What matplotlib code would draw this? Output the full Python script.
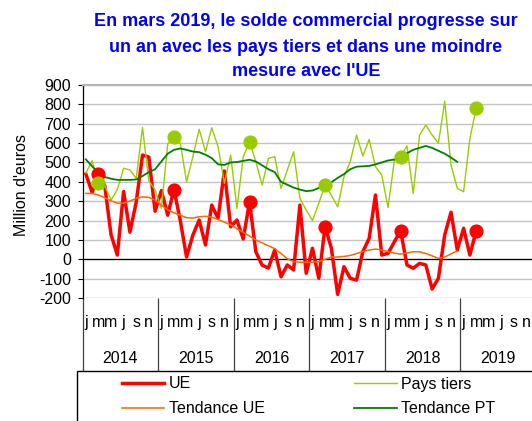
import matplotlib
matplotlib.use("Agg")
import matplotlib.pyplot as plt
import numpy as np
from matplotlib.patches import Rectangle

plt.rcParams['font.family'] = ['Liberation Sans', 'DejaVu Sans']
plt.rcParams['axes.unicode_minus'] = False

# ---- data (monthly, Jan 2014 .. Mar 2019) ----
years = ['2014', '2015', '2016', '2017', '2018', '2019']
month_letters = ['j', 'm', 'm', 'j', 's', 'n']

ue = [440, 345, 440, 380, 128, 22, 350, 140, 295, 538, 528, 248,
      355, 228, 360, 200, 12, 125, 203, 74, 280, 211, 456, 168,
      203, 105, 297, 39, -30, -45, 48, -90, -29, -55, 280, -72,
      57, -98, 169, 57, -181, -38, -98, -107, 40, 108, 332, 22,
      31, 90, 148, -29, -46, -21, -29, -153, -98, 126, 243, 48,
      160, 22, 148]

pays_tiers = [445, 509, 392, 380, 306, 360, 470, 461, 418, 680, 405, 358,
              263, 595, 630, 600, 400, 530, 671, 555, 679, 581, 392, 538,
              263, 530, 607, 504, 383, 521, 530, 366, 461, 555, 315, 254,
              200, 290, 383, 330, 271, 426, 504, 641, 533, 619, 478, 435,
              267, 510, 530, 585, 340, 641, 693, 642, 599, 816, 487, 366,
              349, 624, 779]

tendance_ue = [340, 340, 332, 318, 302, 290, 290, 300, 315, 322, 320, 305,
               280, 255, 240, 228, 215, 213, 220, 222, 218, 205, 192, 178,
               158, 140, 120, 100, 85, 70, 55, 30, 3, -12, -15, -15,
               -15, -12, 0, 12, 12, 15, 20, 30, 40, 48, 53, 48,
               40, 32, 27, 33, 39, 39, 30, 18, 5, 12, 28, 43]

tendance_pt = [516, 480, 445, 425, 416, 410, 410, 410, 412, 430, 450, 465,
               505, 545, 565, 572, 565, 556, 553, 540, 522, 490, 487, 500,
               502, 508, 514, 505, 485, 465, 450, 400, 385, 370, 360, 352,
               355, 368, 380, 398, 420, 440, 465, 478, 480, 482, 490, 500,
               510, 515, 530, 547, 565, 575, 585, 575, 560, 545, 525, 503]

march_idx = [2, 14, 26, 38, 50, 62]

W, H = 532, 421
fig = plt.figure(figsize=(W / 100, H / 100), dpi=100)

def fx(px):
    return px / W

def fy(py):
    return 1 - py / H

ax_left, ax_right, ax_top, ax_bottom = 82.7, 536.0, 84.9, 298.1
ax = fig.add_axes([fx(ax_left), fy(ax_bottom), (ax_right - ax_left) / W,
                   (ax_bottom - ax_top) / H])

x_ue = np.arange(len(ue))
x_pt = np.arange(len(pays_tiers))
x_tue = np.arange(len(tendance_ue))
x_tpt = np.arange(len(tendance_pt))

c_ue, c_pt, c_tue, c_tpt = '#ff0000', '#99cc00', '#ff6600', '#008000'

l_ue, = ax.plot(x_ue, ue, color=c_ue, lw=2.5, zorder=3)
l_pt, = ax.plot(x_pt, pays_tiers, color=c_pt, lw=1.0, zorder=3)
l_tue, = ax.plot(x_tue, tendance_ue, color=c_tue, lw=1.1, zorder=4)
l_tpt, = ax.plot(x_tpt, tendance_pt, color=c_tpt, lw=1.3, zorder=4)

ax.plot(march_idx, [ue[i] for i in march_idx], 'o', color=c_ue, ms=9.2,
        mec=c_ue, zorder=5)
ax.plot(march_idx, [pays_tiers[i] for i in march_idx], 'o', color=c_pt,
        ms=9.2, mec=c_pt, zorder=6)

ax.set_ylim(-200, 900)
ax.set_xlim(-0.5, 71.5)
ax.set_yticks(np.arange(-200, 901, 100))
ax.yaxis.grid(True, color='#c4c4c4', lw=1.0)
ax.set_axisbelow(True)
ax.axhline(0, color='black', lw=0.9, zorder=2)

ax.tick_params(axis='y', direction='out', length=3.5, width=0.8,
               labelsize=11.5, pad=5, colors='black')
for s in ['right', 'bottom']:
    ax.spines[s].set_visible(False)
ax.spines['left'].set_color('black')
ax.spines['left'].set_linewidth(0.9)
ax.spines['top'].set_color('#b4b4b4')
ax.spines['top'].set_linewidth(1.6)

# year boundaries as long ticks below the plot
bounds = [12 * k - 0.5 for k in range(len(years) + 1)]
ax.set_xticks(bounds)
ax.set_xticklabels([''] * len(bounds))
ax.tick_params(axis='x', direction='out', length=(371.3 - ax_bottom) * 0.72,
               width=0.9, colors='#404040')

ph = ax_bottom - ax_top
trans = ax.get_xaxis_transform()
for k, yr in enumerate(years):
    for j, m in enumerate(month_letters):
        ax.text(12 * k + 2 * j, (ax_bottom - 322.7) / ph, m, transform=trans,
                ha='center', va='center', fontsize=11.5, clip_on=False)
    ax.text(12 * k + 5.5, (ax_bottom - 358.4) / ph, yr, transform=trans,
            ha='center', va='center', fontsize=11.5, clip_on=False)

# title
title_lines = ["En mars 2019, le solde commercial progresse sur",
               "un an avec les pays tiers et dans une moindre",
               "mesure avec l'UE"]
for t, yy in zip(title_lines, [22.0, 47.5, 72.0]):
    fig.text(fx(306), fy(yy), t, ha='center', va='center', fontsize=13,
             fontweight='bold', color='#0000ff')

fig.text(fx(21.7), fy(185), "Million d'euros", rotation=90, ha='center',
         va='center', fontsize=11.5)

# legend box
fig.patches.append(Rectangle((fx(77.4), fy(440)), fx(470), (440 - 371.3) / H,
                             transform=fig.transFigure, fill=False,
                             edgecolor='black', lw=1.0))
leg = fig.legend([l_ue, l_tue, l_pt, l_tpt],
                 ['UE', 'Tendance UE', 'Pays tiers', 'Tendance PT'],
                 ncol=2, loc='upper left', bbox_to_anchor=(fx(122), fy(376.5)),
                 frameon=False, fontsize=11.5, borderpad=0, borderaxespad=0,
                 handlelength=2.66, handletextpad=0.26, columnspacing=5.6,
                 labelspacing=0.62)

fig.savefig('out.png', dpi=100)
